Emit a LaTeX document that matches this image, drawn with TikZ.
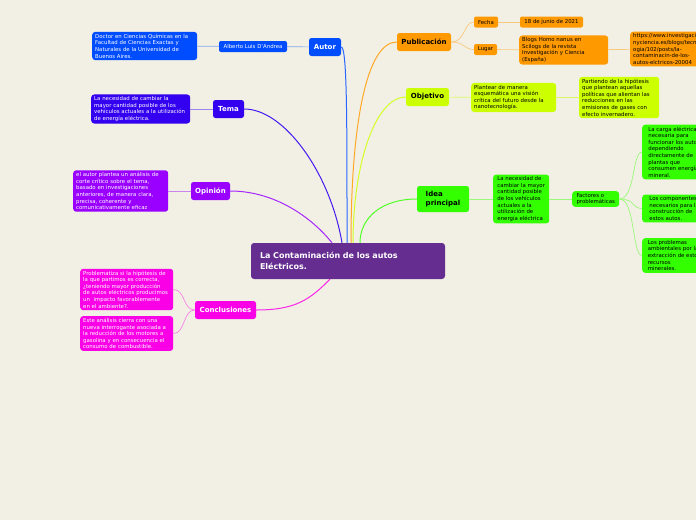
\documentclass[tikz,border=0pt]{standalone}
\usepackage{fontspec}
\setmainfont{DejaVu Sans}

\definecolor{fondo}{RGB}{242,240,228}
\definecolor{raiz}{RGB}{102,45,145}
\definecolor{azul}{RGB}{0,76,255}
\definecolor{indigo}{RGB}{51,0,240}
\definecolor{violeta}{RGB}{153,0,255}
\definecolor{magenta}{RGB}{250,0,230}
\definecolor{naranja}{RGB}{255,153,0}
\definecolor{lima}{RGB}{204,255,0}
\definecolor{verde}{RGB}{51,255,0}

\begin{document}
\begin{tikzpicture}[
    x=1pt, y=-1pt,
    font=\fontsize{5.4}{6.6}\selectfont,
    raizbox/.style={fill=raiz, text=white, rounded corners=3pt, align=left,
      font=\fontsize{8}{10.5}\selectfont\bfseries, text width=176pt,
      inner xsep=9pt, minimum height=36pt},
    topic/.style={rounded corners=2.5pt, font=\fontsize{7}{8.5}\selectfont\bfseries,
      minimum height=18pt, inner xsep=4pt, inner ysep=2pt},
    desc/.style={rounded corners=3pt, align=left, inner xsep=3pt, inner ysep=2pt, anchor=west},
    leaf/.style={rounded corners=2pt, minimum height=11pt, inner xsep=2.5pt, inner ysep=1pt},
    link/.style={line width=1pt},
    sublink/.style={line width=0.7pt}
  ]
    \useasboundingbox (0,0) rectangle (696,520);
    \fill[fondo] (0,0) rectangle (696,520);
    \clip (0,0) rectangle (696,520);

    \node[raizbox] (raiz) at (348,261) {La Contaminación de los autos\\Eléctricos.};

    % rama izquierda
    \node[topic, fill=azul, text=white, minimum width=32pt] (autor) at (325,47) {Autor};
    \node[leaf, fill=azul, text=white, minimum width=68pt] (alberto) at (253,46.5) {Alberto Luis D'Andrea};
    \node[desc, fill=azul, text=white, text width=99pt] (doctor) at (92,46)
      {Doctor en Ciencias Químicas en la\\Facultad de Ciencias Exactas y\\Naturales de la Universidad de\\Buenos Aires.};

    \node[topic, fill=indigo, text=white, minimum width=31pt] (tema) at (228.5,109) {Tema};
    \node[desc, fill=indigo, text=white, text width=93pt] (temadesc) at (91,109)
      {La necesidad de cambiar la\\mayor cantidad posible de los\\vehículos actuales a la utilización\\de energía eléctrica.};

    \node[topic, fill=violeta, text=white, minimum width=39pt] (opinion) at (210.5,191) {Opinión};
    \node[desc, fill=violeta, text=white, text width=89pt] (opdesc) at (73,191)
      {el autor plantea un análisis de\\corte crítico sobre el tema,\\basado en investigaciones\\anteriores, de manera clara,\\precisa, coherente y\\comunicativamente eficaz};

    \node[topic, fill=magenta, text=white, minimum width=61pt] (concl) at (225.5,310) {Conclusiones};
    \node[desc, fill=magenta, text=white, text width=87pt] (concla) at (80,289.5)
      {Problematiza si la hipótesis de\\la que partimos es correcta,\\¿teniendo mayor producción\\de autos eléctricos producimos\\un\ \ impacto favorablemente\\en el ambiente?.};
    \node[desc, fill=magenta, text=white, text width=87pt] (conclb) at (80,333.5)
      {Este análisis cierra con una\\nueva interrogante asociada a\\la reducción de los motores a\\gasolina y en consecuencia el\\consumo de combustible.};

    % rama derecha
    \node[topic, fill=naranja, minimum width=54pt] (pub) at (424,42) {Publicación};
    \node[leaf, fill=naranja, minimum width=24pt] (fecha) at (486,22) {Fecha};
    \node[leaf, fill=naranja, minimum width=63pt] (fechaval) at (551.5,22) {18 de junio de 2021};
    \node[leaf, fill=naranja, minimum width=23pt] (lugar) at (485.5,49.5) {Lugar};
    \node[desc, fill=naranja, text width=83pt] (blogs) at (519,50)
      {Blogs Homo nanus en\\Scilogs de la revista\\Investigación y Ciencia\\(España)};
    \node[desc, fill=naranja] (url) at (630,49)
      {https://www.investigacio\\nyciencia.es/blogs/tecnol\\ogia/102/posts/la-\\contaminacin-de-los-\\autos-elctricos-20004};

    \node[topic, fill=lima, minimum width=43pt] (obj) at (427.5,97) {Objetivo};
    \node[desc, fill=lima, text width=79pt] (plantear) at (471,97.5)
      {Plantear de manera\\esquemática una visión\\crítica del futuro desde la\\nanotecnología.};
    \node[desc, fill=lima, text width=74pt] (partiendo) at (579,97.5)
      {Partiendo de la hipótesis\\que plantean aquellas\\políticas que alientan las\\reducciones en las\\emisiones de gases con\\efecto invernadero.};

    \node[topic, fill=verde, minimum width=52pt, minimum height=26pt, align=left] (idea) at (443,199) {Idea\\principal};
    \node[desc, fill=verde, minimum width=56pt] (necesidad) at (493,199)
      {La necesidad de\\cambiar la mayor\\cantidad posible\\de los vehículos\\actuales a la\\utilización de\\energía eléctrica};
    \node[desc, fill=verde, minimum width=47pt] (factores) at (572,199) {Factores o\\problemáticas};
    \node[desc, fill=verde, minimum width=64pt] (carga) at (642,152)
      {La carga eléctrica\\necesaria para\\funcionar los autos\\dependiendo\\directamente de\\plantas que\\consumen energía\\mineral.};
    \node[desc, fill=verde, minimum width=64pt] (comp) at (642,208.5)
      {Los componentes\\necesarios para la\\construcción de\\estos autos.};
    \node[desc, fill=verde, minimum width=64pt] (prob) at (642,255.5)
      {Los problemas\\ambientales por la\\extracción de estos\\recursos\\minerales.};

    % ramas principales
    \draw[link, azul!85!white] (autor.east) .. controls +(6,0) and +(0,-120) .. ([xshift=-1pt]raiz.north);
    \draw[link, indigo!90!white] (tema.east) .. controls +(40,0) and +(-12,-70) .. ([xshift=-6pt]raiz.north);
    \draw[link, violeta!85!white] (opinion.east) .. controls +(45,0) and +(-20,-25) .. ([xshift=-16pt]raiz.north);
    \draw[link, magenta!85!white] (concl.east) .. controls +(40,0) and +(-20,20) .. ([xshift=-18pt]raiz.south);
    \draw[link, naranja!85!white] (pub.west) .. controls +(-30,0) and +(0,-120) .. ([xshift=3pt]raiz.north);
    \draw[link, lima!85!white] (obj.west) .. controls +(-30,0) and +(0,-80) .. ([xshift=5pt]raiz.north);
    \draw[link, verde!85!white] (idea.west) .. controls +(-35,0) and +(0,-25) .. ([xshift=12pt]raiz.north);

    % ramas secundarias
    \draw[sublink, azul!45!fondo] (autor) -- (alberto);
    \draw[sublink, azul!45!fondo] (alberto) -- (doctor);
    \draw[sublink, indigo!45!fondo] (tema) -- (temadesc);
    \draw[sublink, violeta!45!fondo] (opinion) -- (opdesc);
    \draw[sublink, magenta!45!fondo] (concl.west) .. controls +(-12,0) and +(12,0) .. (concla.east);
    \draw[sublink, magenta!45!fondo] (concl.west) .. controls +(-12,0) and +(12,0) .. (conclb.east);
    \draw[sublink, naranja!45!fondo] (pub.east) .. controls +(14,0) and +(-10,0) .. (fecha.west);
    \draw[sublink, naranja!45!fondo] (pub.east) .. controls +(14,0) and +(-10,0) .. (lugar.west);
    \draw[sublink, naranja!45!fondo] (fecha) -- (fechaval);
    \draw[sublink, naranja!45!fondo] (lugar) -- (blogs);
    \draw[sublink, naranja!45!fondo] (blogs) -- (url);
    \draw[sublink, lima!55!fondo] (obj) -- (plantear);
    \draw[sublink, lima!55!fondo] (plantear) -- (partiendo);
    \draw[sublink, verde!45!fondo] (idea) -- (necesidad);
    \draw[sublink, verde!45!fondo] (necesidad) -- (factores);
    \draw[sublink, verde!45!fondo] (factores.east) .. controls +(16,0) and +(-10,0) .. (carga.west);
    \draw[sublink, verde!45!fondo] (factores.east) .. controls +(16,0) and +(-10,0) .. (comp.west);
    \draw[sublink, verde!45!fondo] (factores.east) .. controls +(16,0) and +(-10,0) .. (prob.west);
  \end{tikzpicture}
\end{document}
